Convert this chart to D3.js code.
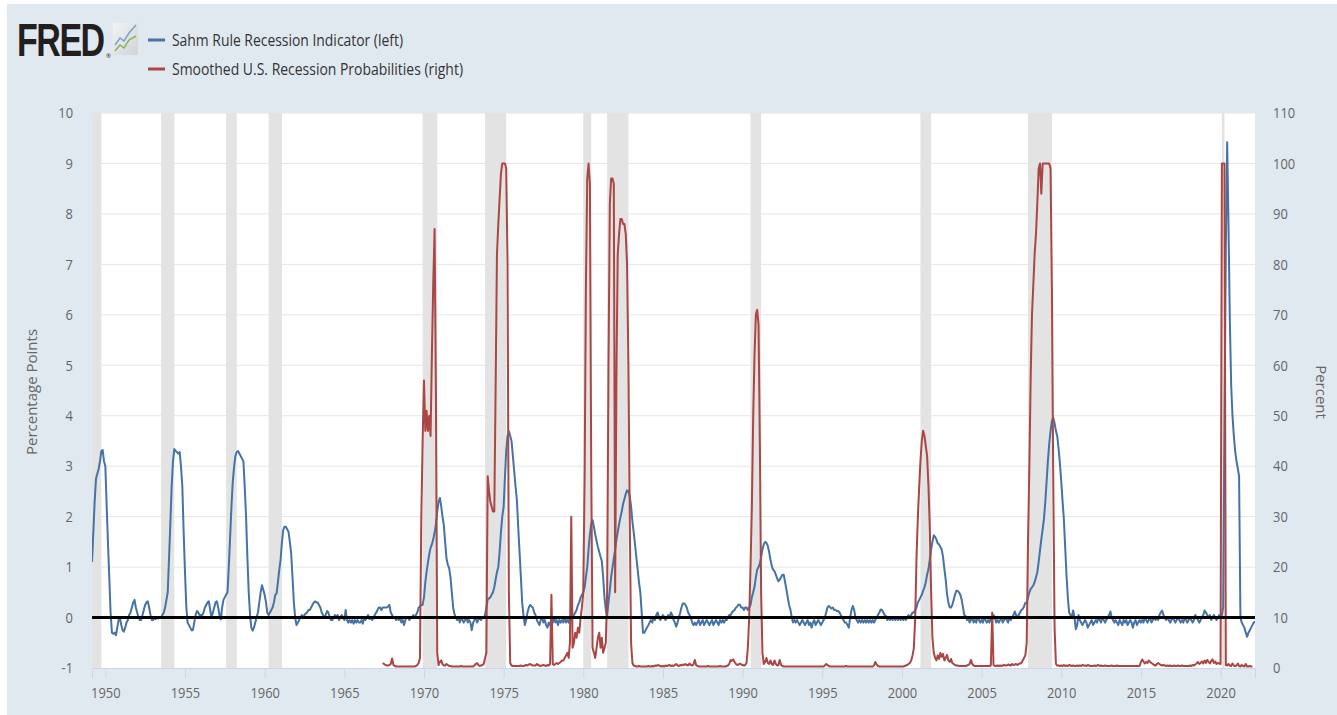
<!DOCTYPE html>
<html>
<head>
<meta charset="utf-8">
<script src="https://cdn.jsdelivr.net/npm/d3@7"></script>
<style>
  body { margin: 0; background: #fff; }
  svg { display: block; }
  text { font-family: "Open Sans", sans-serif; }
</style>
</head>
<body>
<svg id="chart" width="1337" height="715"></svg>
<script>
// Sahm Rule Recession Indicator, monthly from 1949-03 (percentage points)
const sahmStart = '1949-03';
const sahm = [
  1.1, 1.7, 2.3, 2.75, 2.85, 2.95, 3.1, 3.3, 3.32, 3.1,                         // 1949 Mar-Dec
  3.0, 2.2, 1.5, 0.8, 0.1, -0.3, -0.32, -0.3, -0.35, -0.2, -0.05, 0.0,          // 1950
  -0.15, -0.25, -0.28, -0.2, -0.1, -0.05, 0.05, 0.1, 0.2, 0.3, 0.35, 0.2,       // 1951
  0.1, 0.0, -0.05, -0.05, 0.05, 0.15, 0.25, 0.3, 0.32, 0.2, 0.05, -0.05,        // 1952
  -0.05, 0.0, -0.03, 0.0, -0.02, 0.0, 0.0, 0.05, 0.1, 0.2, 0.35, 0.5,           // 1953
  1.2, 1.9, 2.6, 3.1, 3.34, 3.3, 3.28, 3.25, 3.28, 3.0, 2.6, 1.7,               // 1954
  0.9, 0.2, -0.1, -0.15, -0.2, -0.25, -0.25, -0.1, 0.05, 0.13, 0.1, 0.05,       // 1955
  0.05, 0.05, 0.1, 0.2, 0.25, 0.3, 0.32, 0.15, 0.0, 0.1, 0.2, 0.3,              // 1956
  0.32, 0.2, 0.05, -0.04, 0.2, 0.35, 0.4, 0.45, 0.5, 1.0, 1.6, 2.2,             // 1957
  2.7, 3.0, 3.2, 3.28, 3.3, 3.25, 3.2, 3.15, 3.1, 2.6, 2.0, 1.2,                // 1958
  0.5, 0.05, -0.2, -0.26, -0.2, -0.1, 0.0, 0.1, 0.3, 0.5, 0.64, 0.55,           // 1959
  0.45, 0.3, 0.1, 0.05, 0.1, 0.15, 0.2, 0.3, 0.45, 0.48, 0.7, 0.95,             // 1960
  1.15, 1.5, 1.73, 1.8, 1.8, 1.75, 1.7, 1.5, 1.26, 0.8, 0.3, 0.0,               // 1961
  -0.15, -0.1, -0.05, 0.0, 0.05, 0.0, 0.05, 0.08, 0.1, 0.15, 0.15, 0.2,         // 1962
  0.25, 0.3, 0.32, 0.3, 0.3, 0.25, 0.2, 0.1, 0.05, 0.0, 0.05, 0.13,             // 1963
  0.1, 0.0, -0.05, -0.05, 0.0, 0.05, 0.0, 0.05, -0.05, 0.0, 0.05, 0.0,          // 1964
  -0.05, 0.15, -0.05, -0.1, -0.05, -0.1, -0.05, -0.12, -0.05, -0.1, -0.05, -0.1,// 1965
  -0.1, -0.05, -0.12, 0.0, -0.05, 0.0, 0.05, -0.03, 0.0, -0.05, 0.0, 0.05,      // 1966
  0.1, 0.15, 0.2, 0.2, 0.15, 0.2, 0.2, 0.2, 0.2, 0.22, 0.25, 0.1,               // 1967
  0.05, 0.0, 0.0, -0.05, 0.0, -0.05, 0.0, -0.1, -0.05, -0.15, -0.05, 0.0,       // 1968
  0.0, -0.05, 0.0, 0.0, 0.05, 0.0, 0.05, 0.1, 0.2, 0.22, 0.25, 0.25,            // 1969
  0.4, 0.7, 0.9, 1.09, 1.25, 1.38, 1.45, 1.55, 1.68, 1.85, 2.1, 2.3,            // 1970
  2.37, 2.2, 2.0, 1.83, 1.5, 1.17, 1.05, 0.98, 0.8, 0.5, 0.2, 0.07,             // 1971
  0.0, -0.05, 0.0, -0.1, 0.0, -0.05, -0.1, -0.05, 0.0, -0.1, -0.05, -0.1,       // 1972
  -0.25, -0.1, -0.05, 0.0, -0.1, -0.05, 0.0, -0.05, 0.0, 0.0, 0.05, 0.2,        // 1973
  0.36, 0.38, 0.4, 0.45, 0.5, 0.6, 0.75, 0.9, 1.0, 1.3, 1.7, 2.0,               // 1974
  2.2, 2.8, 3.3, 3.6, 3.69, 3.6, 3.5, 3.2, 2.9, 2.6, 2.33, 1.8,                 // 1975
  1.3, 0.8, 0.3, 0.04, -0.15, -0.05, 0.1, 0.2, 0.25, 0.22, 0.2, 0.1,            // 1976
  0.05, -0.05, -0.1, -0.15, -0.05, 0.0, -0.1, -0.05, -0.15, -0.2, -0.1, -0.15,  // 1977
  -0.05, -0.1, 0.0, -0.1, -0.05, -0.15, -0.05, -0.1, -0.05, -0.1, 0.0, -0.1,    // 1978
  -0.05, -0.1, 0.0, -0.05, 0.0, 0.05, 0.1, 0.15, 0.25, 0.3, 0.4, 0.45,          // 1979
  0.5, 0.6, 0.8, 1.0, 1.35, 1.65, 1.85, 1.93, 1.8, 1.65, 1.52, 1.4,             // 1980
  1.3, 1.2, 1.12, 0.8, 0.4, 0.15, 0.04, 0.3, 0.55, 0.8, 1.0, 1.17,              // 1981
  1.35, 1.55, 1.7, 1.85, 1.98, 2.1, 2.25, 2.35, 2.45, 2.52, 2.5, 2.41,          // 1982
  2.2, 1.9, 1.7, 1.45, 1.2, 0.95, 0.7, 0.5, 0.1, -0.3, -0.3, -0.25,             // 1983
  -0.2, -0.15, -0.1, -0.05, -0.1, 0.0, -0.05, 0.05, 0.1, 0.0, -0.05, 0.0,       // 1984
  0.05, 0.0, -0.05, 0.0, 0.05, 0.0, 0.1, 0.05, -0.05, -0.1, -0.18, -0.1,        // 1985
  0.0, 0.1, 0.2, 0.28, 0.28, 0.25, 0.2, 0.1, 0.05, 0.0, -0.1, -0.15,            // 1986
  -0.1, -0.15, -0.1, -0.05, -0.15, -0.1, -0.05, -0.15, -0.1, -0.05, -0.1, -0.15,// 1987
  -0.1, -0.05, -0.15, -0.1, -0.05, -0.1, -0.15, -0.05, -0.1, -0.05, -0.1, -0.05,// 1988
  -0.05, 0.0, 0.05, 0.05, 0.1, 0.13, 0.15, 0.2, 0.22, 0.26, 0.25, 0.2,          // 1989
  0.2, 0.15, 0.2, 0.2, 0.15, 0.2, 0.25, 0.4, 0.5, 0.61, 0.8, 0.95,              // 1990
  1.0, 1.07, 1.2, 1.35, 1.45, 1.5, 1.48, 1.42, 1.3, 1.15, 1.02, 0.95,           // 1991
  0.92, 0.85, 0.78, 0.72, 0.75, 0.8, 0.85, 0.85, 0.7, 0.56, 0.4, 0.25,          // 1992
  0.16, 0.0, -0.1, -0.05, -0.1, -0.05, -0.1, -0.15, -0.1, -0.05, -0.1, -0.15,   // 1993
  -0.1, -0.05, -0.15, -0.1, -0.2, -0.1, -0.05, -0.15, -0.1, -0.05, -0.1, -0.15, // 1994
  -0.1, -0.05, 0.0, 0.1, 0.2, 0.23, 0.2, 0.18, 0.2, 0.15, 0.15, 0.13,           // 1995
  0.13, 0.1, 0.05, 0.0, -0.05, -0.1, -0.1, -0.15, -0.2, 0.0, 0.15, 0.23,        // 1996
  0.15, 0.0, -0.05, -0.1, -0.05, -0.1, -0.05, -0.1, -0.05, -0.1, -0.05, -0.1,   // 1997
  -0.05, -0.1, -0.05, -0.1, -0.05, 0.0, 0.05, 0.1, 0.16, 0.15, 0.1, 0.05,       // 1998
  0.03, -0.05, 0.0, -0.05, 0.0, -0.05, 0.0, -0.05, 0.0, -0.05, 0.0, -0.05,      // 1999
  0.0, -0.05, 0.0, -0.05, 0.0, 0.05, 0.0, 0.05, 0.1, 0.1, 0.15, 0.2,            // 2000
  0.3, 0.35, 0.4, 0.45, 0.53, 0.6, 0.7, 0.85, 0.96, 1.15, 1.35, 1.5,            // 2001
  1.63, 1.6, 1.55, 1.47, 1.45, 1.4, 1.35, 1.2, 0.96, 0.75, 0.46, 0.3,           // 2002
  0.2, 0.2, 0.25, 0.35, 0.45, 0.53, 0.53, 0.5, 0.45, 0.36, 0.2, 0.05,           // 2003
  0.03, -0.05, 0.0, -0.1, -0.05, 0.0, -0.1, -0.05, -0.1, 0.0, -0.05, -0.1,      // 2004
  -0.05, -0.1, 0.0, -0.05, -0.1, -0.05, -0.1, 0.0, -0.05, 0.05, 0.0, -0.1,      // 2005
  -0.05, -0.1, -0.05, 0.0, -0.1, -0.05, 0.0, -0.05, -0.1, 0.0, -0.05, 0.0,      // 2006
  0.05, 0.12, 0.05, 0.0, 0.05, 0.1, 0.15, 0.17, 0.22, 0.29, 0.3, 0.4,           // 2007
  0.5, 0.57, 0.6, 0.64, 0.7, 0.8, 0.9, 1.1, 1.33, 1.55, 1.75, 1.96,             // 2008
  2.3, 2.72, 3.1, 3.45, 3.7, 3.9, 3.96, 3.85, 3.7, 3.6, 3.35, 3.06,             // 2009
  2.7, 2.3, 1.96, 1.4, 0.85, 0.4, 0.1, 0.05, 0.0, 0.14, 0.0, -0.23,             // 2010
  -0.15, 0.05, -0.05, -0.1, -0.15, -0.1, -0.05, -0.1, -0.2, -0.15, -0.1, -0.05, // 2011
  -0.15, -0.1, -0.05, -0.1, 0.0, -0.05, -0.1, 0.0, -0.05, -0.1, -0.05, 0.0,     // 2012
  0.05, 0.12, 0.0, -0.05, -0.1, -0.05, -0.1, -0.15, -0.05, -0.1, -0.15, -0.05,  // 2013
  -0.1, -0.05, -0.15, -0.1, -0.05, -0.1, -0.2, -0.1, -0.05, -0.15, -0.1, -0.05, // 2014
  -0.1, -0.05, -0.1, 0.0, -0.05, -0.1, -0.05, 0.0, -0.1, -0.05, 0.0, -0.05,     // 2015
  0.0, -0.05, 0.05, 0.1, 0.14, 0.05, 0.0, -0.05, 0.0, -0.05, -0.1, -0.05,       // 2016
  0.0, -0.05, -0.1, -0.05, 0.0, -0.05, -0.1, -0.05, -0.1, 0.0, -0.05, -0.1,     // 2017
  -0.05, 0.0, -0.05, -0.1, -0.05, 0.05, 0.0, -0.05, -0.1, -0.05, 0.0, 0.05,     // 2018
  0.14, 0.1, 0.05, 0.0, 0.05, -0.05, 0.0, 0.05, 0.0, -0.05, 0.0, 0.05,          // 2019
  0.0, 0.05, 0.2, 4.0, 7.3, 9.42, 7.8, 5.9, 4.6, 4.0, 3.6, 3.3,                 // 2020
  3.1, 2.95, 2.8, 0.0, -0.1, -0.15, -0.2, -0.3, -0.38, -0.3, -0.25, -0.2,       // 2021
  -0.15, -0.1, -0.08                                                            // 2022 Jan-Mar
];

// Smoothed U.S. Recession Probabilities, monthly from 1967-06 (percent)
const probStart = '1967-06';
const probs = [
  1.0, 0.8, 0.6, 0.5, 0.5, 0.6, 0.8,                                            // 1967 Jun-Dec
  1.9, 0.6, 0.4, 0.3, 0.3, 0.3, 0.3, 0.3, 0.3, 0.3, 0.3, 0.3,                   // 1968
  0.3, 0.3, 0.3, 0.3, 0.3, 0.3, 0.4, 0.6, 1.0, 2.0, 30, 45,                     // 1969
  57, 47, 51, 47, 50, 46, 62, 76, 87, 55, 3, 0.6,                               // 1970
  1.2, 1.5, 0.8, 0.5, 0.5, 0.8, 0.6, 0.4, 0.4, 0.3, 0.3, 0.3,                   // 1971
  0.3, 0.3, 0.3, 0.3, 0.4, 0.3, 0.3, 0.3, 0.3, 0.3, 0.3, 0.3,                   // 1972
  0.3, 0.3, 0.5, 0.8, 1.0, 0.6, 0.4, 0.5, 0.6, 0.8, 2.0, 3.0,                   // 1973
  38, 35, 33, 32, 31, 31, 55, 82, 88, 93, 98, 100,                              // 1974
  100, 100, 99, 80, 15, 1.0, 0.5, 0.4, 0.4, 0.4, 0.4, 0.4,                      // 1975
  0.4, 0.5, 0.4, 0.4, 0.5, 0.6, 0.5, 0.7, 0.8, 0.6, 0.5, 0.5,                   // 1976
  0.5, 0.8, 0.6, 0.5, 0.4, 0.5, 0.6, 0.5, 0.4, 0.6, 0.5, 0.8,                   // 1977
  14.5, 0.8, 0.6, 0.8, 1.0, 0.8, 1.0, 1.2, 1.5, 1.5, 2.0, 2.5,                  // 1978
  3.0, 2.0, 5.0, 30, 4.0, 5.0, 7.0, 6.0, 8.0, 7.0, 10, 12,                      // 1979
  15, 38, 75, 97, 100, 96, 40, 4, 3, 2, 4, 6,                                   // 1980
  7, 4, 6, 3, 4, 5, 15, 60, 92, 97, 97, 96,                                     // 1981
  15, 60, 82, 86, 89, 89, 88, 88, 86, 80, 60, 30,                               // 1982
  5, 1.0, 0.5, 0.4, 0.3, 0.3, 0.4, 0.3, 0.3, 0.3, 0.3, 0.3,                     // 1983
  0.3, 0.4, 0.3, 0.3, 0.4, 0.3, 0.5, 0.4, 0.6, 0.5, 0.4, 0.3,                   // 1984
  0.4, 0.3, 0.5, 0.4, 0.5, 0.6, 0.4, 0.5, 0.4, 0.6, 0.8, 0.5,                   // 1985
  0.4, 0.6, 0.5, 0.7, 0.6, 0.8, 0.6, 0.5, 0.9, 0.6, 0.5, 0.7,                   // 1986
  1.6, 0.6, 0.4, 0.3, 0.3, 0.3, 0.3, 0.3, 0.3, 0.3, 0.4, 0.3,                   // 1987
  0.3, 0.3, 0.3, 0.3, 0.3, 0.3, 0.3, 0.4, 0.3, 0.3, 0.3, 0.3,                   // 1988
  0.4, 0.5, 0.8, 1.6, 1.4, 1.7, 1.2, 0.8, 0.6, 0.7, 0.9, 0.7,                   // 1989
  0.6, 0.5, 0.6, 1.0, 4, 10, 20, 32, 50, 62, 70, 71,                            // 1990
  68, 44, 15, 3, 0.8, 1.2, 2.0, 1.0, 0.8, 1.5, 0.8, 0.6,                        // 1991
  1.5, 0.8, 0.5, 0.6, 1.6, 0.6, 0.4, 0.3, 0.3, 0.3, 0.3, 0.3,                   // 1992
  0.3, 0.3, 0.3, 0.3, 0.3, 0.3, 0.3, 0.3, 0.3, 0.3, 0.3, 0.3,                   // 1993
  0.3, 0.3, 0.3, 0.3, 0.3, 0.3, 0.3, 0.3, 0.3, 0.3, 0.3, 0.3,                   // 1994
  0.3, 0.3, 0.5, 0.8, 0.6, 0.4, 0.3, 0.3, 0.3, 0.3, 0.3, 0.3,                   // 1995
  0.3, 0.3, 0.3, 0.3, 0.3, 0.3, 0.4, 0.3, 0.3, 0.3, 0.3, 0.3,                   // 1996
  0.3, 0.3, 0.3, 0.3, 0.3, 0.3, 0.3, 0.3, 0.3, 0.3, 0.3, 0.3,                   // 1997
  0.3, 0.3, 0.3, 0.5, 1.2, 0.7, 0.4, 0.3, 0.3, 0.3, 0.3, 0.3,                   // 1998
  0.3, 0.3, 0.3, 0.3, 0.3, 0.3, 0.3, 0.3, 0.3, 0.3, 0.3, 0.3,                   // 1999
  0.3, 0.3, 0.4, 0.5, 0.6, 0.8, 1.0, 1.5, 2.5, 4, 10, 22,                       // 2000
  30, 36, 41, 45, 47, 46, 44, 42, 36, 28, 15, 6,                                // 2001
  3, 2, 1.5, 2.5, 1.8, 3.0, 2.2, 2.8, 1.5, 2.0, 2.6, 1.5,                       // 2002
  1.2, 1.8, 1.0, 0.8, 0.6, 0.5, 0.5, 0.4, 0.4, 0.4, 0.4, 0.4,                   // 2003
  0.4, 0.5, 0.6, 0.8, 1.6, 0.8, 0.5, 0.4, 0.4, 0.4, 0.4, 0.4,                   // 2004
  0.4, 0.4, 0.4, 0.4, 0.4, 0.4, 0.4, 0.5, 11, 0.6, 0.4, 0.4,                    // 2005
  0.5, 0.4, 0.5, 0.4, 0.5, 0.6, 0.5, 0.5, 0.7, 0.6, 0.5, 0.8,                   // 2006
  0.6, 0.7, 0.8, 0.6, 0.8, 0.9, 1.0, 1.5, 2.0, 2.5, 5, 25,                      // 2007
  40, 58, 70, 76, 82, 86, 92, 99, 100, 94, 100, 100,                            // 2008
  100, 100, 100, 100, 99, 75, 38, 8, 0.8, 0.5, 0.5, 0.4,                        // 2009
  0.5, 0.4, 0.6, 0.4, 0.5, 0.4, 0.6, 0.5, 0.4, 0.5, 0.4, 0.4,                   // 2010
  0.5, 0.4, 0.5, 0.4, 0.6, 0.5, 0.5, 0.4, 0.6, 0.5, 0.4, 0.4,                   // 2011
  0.4, 0.5, 0.4, 0.5, 0.6, 0.4, 0.5, 0.4, 0.4, 0.5, 0.4, 0.4,                   // 2012
  0.4, 0.4, 0.5, 0.4, 0.4, 0.4, 0.5, 0.4, 0.4, 0.4, 0.4, 0.4,                   // 2013
  0.4, 0.4, 0.4, 0.4, 0.4, 0.4, 0.4, 0.4, 0.4, 0.4, 0.4, 0.4,                   // 2014
  1.2, 1.7, 1.3, 0.9, 1.2, 1.0, 1.5, 1.2, 1.0, 0.8, 0.6, 0.5,                   // 2015
  0.8, 1.0, 0.8, 0.6, 0.5, 0.6, 0.5, 0.4, 0.5, 0.4, 0.5, 0.4,                   // 2016
  0.4, 0.5, 0.4, 0.4, 0.5, 0.4, 0.4, 0.5, 0.4, 0.4, 0.4, 0.4,                   // 2017
  0.4, 0.5, 0.4, 0.6, 0.5, 0.7, 0.9, 1.2, 0.8, 1.0, 1.3, 0.9,                   // 2018
  1.5, 1.0, 1.6, 1.2, 0.9, 1.4, 1.7, 1.0, 1.3, 0.8, 1.0, 0.9,                   // 2019
  0.8, 100, 100, 100, 0.6, 0.5, 0.8, 0.5, 0.4, 0.9, 0.5, 0.4,                   // 2020
  0.5, 0.9, 0.4, 0.3, 0.6, 0.4, 0.3, 0.8, 0.3, 0.3, 0.4, 0.3,                   // 2021
  0.3                                                                           // 2022 Jan
];

// NBER recessions (peak month, trough month)
const recessions = [
  ['1948-11', '1949-10'], ['1953-07', '1954-05'], ['1957-08', '1958-04'],
  ['1960-04', '1961-02'], ['1969-12', '1970-11'], ['1973-11', '1975-03'],
  ['1980-01', '1980-07'], ['1981-07', '1982-11'], ['1990-07', '1991-03'],
  ['2001-03', '2001-11'], ['2007-12', '2009-06'], ['2020-02', '2020-04']
];

const leftTicks = [-1, 0, 1, 2, 3, 4, 5, 6, 7, 8, 9, 10];
const rightTicks = [0, 10, 20, 30, 40, 50, 60, 70, 80, 90, 100, 110];
const yearTicks = [1950, 1955, 1960, 1965, 1970, 1975, 1980, 1985, 1990, 1995, 2000, 2005, 2010, 2015, 2020];

const parseMonth = d3.timeParse('%Y-%m');

function monthly(start, values) {
  const t0 = parseMonth(start);
  return values.map((v, i) => ({date: d3.timeMonth.offset(t0, i), v: v}));
}

const sahmData = monthly(sahmStart, sahm);
const probData = monthly(probStart, probs);

const plot = {left: 92, right: 1255, top: 113, bottom: 668};

const x = d3.scaleTime()
  .domain([parseMonth('1949-03'), parseMonth('2022-03')])
  .range([plot.left, plot.right]);
const yLeft = d3.scaleLinear().domain([-1, 10]).range([plot.bottom, plot.top]);
const yRight = d3.scaleLinear().domain([0, 110]).range([plot.bottom, plot.top]);

const svg = d3.select('#chart');

// page background
svg.append('rect')
  .attr('x', 7).attr('y', 4)
  .attr('width', 1337 - 7).attr('height', 715 - 4)
  .attr('fill', '#e1e9f0');

svg.append('rect')
  .attr('x', plot.left).attr('y', plot.top)
  .attr('width', plot.right - plot.left).attr('height', plot.bottom - plot.top)
  .attr('fill', '#fff');

svg.append('clipPath').attr('id', 'plot-clip')
  .append('rect')
  .attr('x', plot.left).attr('y', plot.top)
  .attr('width', plot.right - plot.left).attr('height', plot.bottom - plot.top);

// gridlines
svg.append('g')
  .selectAll('line')
  .data(leftTicks.filter(d => d > -1))
  .enter()
  .append('line')
  .attr('x1', plot.left).attr('x2', plot.right)
  .attr('y1', d => yLeft(d)).attr('y2', d => yLeft(d))
  .attr('stroke', '#e6e6e6')
  .attr('stroke-width', 1);

// recession shading
svg.append('g')
  .attr('clip-path', 'url(#plot-clip)')
  .selectAll('rect')
  .data(recessions)
  .enter()
  .append('rect')
  .attr('x', d => x(parseMonth(d[0])))
  .attr('width', d => x(parseMonth(d[1])) - x(parseMonth(d[0])))
  .attr('y', plot.top)
  .attr('height', plot.bottom - plot.top)
  .attr('fill', '#e3e3e3');

// x axis
const xAxis = svg.append('g')
  .attr('transform', 'translate(0,' + plot.bottom + ')')
  .call(d3.axisBottom(x)
    .tickValues(yearTicks.map(y => new Date(y, 0, 1)))
    .tickFormat(d3.timeFormat('%Y'))
    .tickSize(10)
    .tickPadding(9));
xAxis.select('.domain').attr('stroke', '#ccd6eb');
xAxis.selectAll('.tick line').attr('stroke', '#ccd6eb');
xAxis.selectAll('text')
  .attr('fill', '#666')
  .style('font-size', '15px');

// left axis (plain hyphen for negatives, as on FRED)
const leftAxis = svg.append('g')
  .attr('transform', 'translate(' + plot.left + ',0)')
  .call(d3.axisLeft(yLeft).tickValues(leftTicks).tickFormat(d => String(d))
    .tickSize(0).tickPadding(19));
leftAxis.select('.domain').remove();
leftAxis.selectAll('text').attr('fill', '#666').style('font-size', '15px');

// right axis
const rightAxis = svg.append('g')
  .attr('transform', 'translate(' + plot.right + ',0)')
  .call(d3.axisRight(yRight).tickValues(rightTicks).tickFormat(d => String(d))
    .tickSize(0).tickPadding(18));
rightAxis.select('.domain').remove();
rightAxis.selectAll('text').attr('fill', '#666').style('font-size', '15px');

// squeeze tick labels a little, the FRED type is narrow
svg.selectAll('.tick text')
  .attr('font-family', null)
  .each(function() {
    const w = this.getComputedTextLength();
    d3.select(this).attr('textLength', w * 0.86).attr('lengthAdjust', 'spacingAndGlyphs');
  });

// series
const lines = svg.append('g').attr('clip-path', 'url(#plot-clip)');

lines.append('path')
  .datum(sahmData)
  .attr('fill', 'none')
  .attr('stroke', '#4572a7')
  .attr('stroke-width', 2)
  .attr('stroke-linejoin', 'round')
  .attr('d', d3.line().x(d => x(d.date)).y(d => yLeft(d.v)));

lines.append('path')
  .datum(probData)
  .attr('fill', 'none')
  .attr('stroke', '#aa4643')
  .attr('stroke-width', 2)
  .attr('stroke-linejoin', 'round')
  .attr('d', d3.line().x(d => x(d.date)).y(d => yRight(d.v)));

// zero line
svg.append('line')
  .attr('x1', plot.left).attr('x2', plot.right)
  .attr('y1', yLeft(0)).attr('y2', yLeft(0))
  .attr('stroke', '#000')
  .attr('stroke-width', 3);

// axis titles
svg.append('text')
  .attr('transform', 'translate(37,392) rotate(-90)')
  .attr('text-anchor', 'middle')
  .attr('fill', '#666')
  .style('font-size', '15px')
  .text('Percentage Points');

svg.append('text')
  .attr('transform', 'translate(1316,392) rotate(90)')
  .attr('text-anchor', 'middle')
  .attr('fill', '#666')
  .style('font-size', '15px')
  .text('Percent');

// logo: bold type squeezed sideways
svg.append('text')
  .attr('transform', 'translate(17,56) scale(0.74,1)')
  .attr('fill', '#231f20')
  .style('font-size', '46px')
  .style('font-weight', 'bold')
  .style('font-family', '"Liberation Sans", Arial, sans-serif')
  .style('letter-spacing', '-2px')
  .text('FRED');
svg.append('text')
  .attr('x', 106).attr('y', 58)
  .attr('fill', '#231f20')
  .style('font-size', '6px')
  .text('\u00ae');

const iconGrad = svg.append('defs').append('linearGradient')
  .attr('id', 'icon-bg').attr('x1', 0).attr('y1', 0).attr('x2', 1).attr('y2', 1);
iconGrad.append('stop').attr('offset', '0%').attr('stop-color', '#f4f4f4');
iconGrad.append('stop').attr('offset', '100%').attr('stop-color', '#cfd3d6');

svg.append('rect')
  .attr('x', 113).attr('y', 23).attr('width', 25).attr('height', 32)
  .attr('rx', 2)
  .attr('fill', 'url(#icon-bg)');
svg.append('polyline')
  .attr('points', '115,45 120,38 124,41 129,33 136,25')
  .attr('fill', 'none').attr('stroke', '#7d9fcc').attr('stroke-width', 1.5);
svg.append('polyline')
  .attr('points', '115,51 120,45 124,48 129,40 136,36')
  .attr('fill', 'none').attr('stroke', '#86b55c').attr('stroke-width', 1.5);

// legend
const legend = [
  {label: 'Sahm Rule Recession Indicator (left)', color: '#4572a7', y: 40, len: 231},
  {label: 'Smoothed U.S. Recession Probabilities (right)', color: '#aa4643', y: 69, len: 291}
];

const items = svg.append('g')
  .selectAll('g')
  .data(legend)
  .enter()
  .append('g');

items.append('line')
  .attr('x1', 148).attr('x2', 165)
  .attr('y1', d => d.y).attr('y2', d => d.y)
  .attr('stroke', d => d.color)
  .attr('stroke-width', 3);

items.append('text')
  .attr('x', 172)
  .attr('y', d => d.y + 6)
  .attr('textLength', d => d.len)
  .attr('lengthAdjust', 'spacingAndGlyphs')
  .attr('fill', '#333')
  .style('font-size', '16px')
  .text(d => d.label);
</script>
</body>
</html>
